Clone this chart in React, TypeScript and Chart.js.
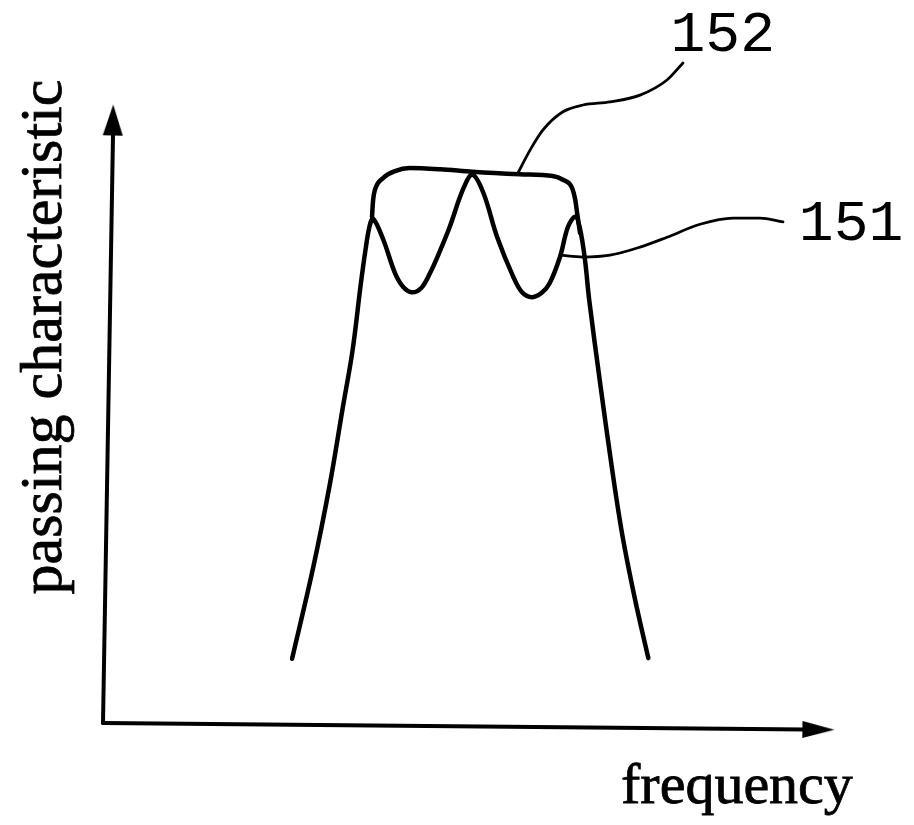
import React, { useEffect, useRef } from "react";
import { Chart, registerables } from "chart.js";

Chart.register(...registerables);

// ---- data (frequency / passing characteristic in arbitrary units, 0..100 on each axis) ----
const curve151Freq = [25.9, 28.8, 31.1, 32.8, 34.2, 35.3, 35.95, 36.5, 37.0, 38.4, 40.0, 41.1, 42.3, 43.6, 44.8, 46.2, 47.5, 49.3, 50.6, 52.1, 54.0, 56.2, 57.4, 58.8, 60.1, 61.2, 62.6, 63.7, 64.7, 65.3, 66.0, 66.6, 68.1, 69.7, 71.1, 72.9, 74.7];
const curve151Pass = [10.4, 25.2, 38.8, 50.7, 60.4, 70.9, 76.5, 80.3, 81.6, 78.2, 72.8, 70.6, 69.7, 70.4, 72.8, 76.5, 80.3, 86.3, 88.7, 85.8, 78.6, 72.2, 69.7, 68.9, 69.6, 71.2, 75.4, 80.3, 81.9, 80.2, 75.2, 68.5, 55.0, 41.4, 30.7, 19.9, 10.5];

const curve152Freq = [36.85, 37.0, 37.26, 38.4, 40.0, 42.0, 46.2, 50.6, 57.1, 61.6, 63.0, 64.25, 64.7, 64.95, 65.35];
const curve152Pass = [81.9, 84.6, 86.3, 88.2, 89.3, 89.8, 89.6, 89.2, 88.8, 88.5, 87.9, 86.6, 84.6, 82.5, 79.3];

const leader152Freq = [56.85, 58.5, 60.3, 63.0, 65.75, 69.45, 73.56, 77.26, 79.45];
const leader152Pass = [89.0, 92.7, 96.0, 98.9, 100.0, 100.5, 101.6, 104.05, 106.8];

const leader151Freq = [62.6, 65.75, 69.45, 73.56, 77.26, 81.78, 86.3, 90.0, 93.15];
const leader151Pass = [75.7, 75.4, 75.7, 77.0, 78.6, 80.7, 81.7, 81.7, 81.1];

const xAxisFreq = [0, 96.2];
const xAxisPass = [0, -1.04];
const yAxisFreq = [0, 1.37];
const yAxisPass = [0, 95.15];
const xArrowFreq = [98.0];
const xArrowPass = [-1.07];
const yArrowFreq = [1.37];
const yArrowPass = [97.57];

const refLabels = ["152", "151"];
const refLabelFreq = [84.9, 102.47];
const refLabelPass = [108.74, 78.16];

const xTitle = "frequency";
const xTitleFreq = 70.96;
const xTitlePass = -12.94;
const yTitle = "passing characteristic";
const yTitleFreq = -5.75;
const yTitlePass = 62.46;

const pts = (xs: number[], ys: number[]) => xs.map((x, i) => ({ x, y: ys[i] }));

function makeArrow(w: number, h: number) {
  const c = document.createElement("canvas");
  c.width = w;
  c.height = h;
  const g = c.getContext("2d")!;
  g.fillStyle = "#000";
  g.beginPath();
  g.moveTo(w / 2, 0);
  g.lineTo(w, h);
  g.lineTo(0, h);
  g.closePath();
  g.fill();
  return c;
}

const textPlugin = {
  id: "drawingText",
  afterDatasetsDraw(chart: any) {
    const { ctx } = chart;
    const xs = chart.scales.x;
    const ys = chart.scales.y;
    ctx.save();
    ctx.fillStyle = "#000";
    ctx.strokeStyle = "#000";
    ctx.textBaseline = "alphabetic";
    ctx.font = '58px "Liberation Mono"';
    ctx.textAlign = "center";
    refLabels.forEach((t, i) => {
      ctx.fillText(t, xs.getPixelForValue(refLabelFreq[i]), ys.getPixelForValue(refLabelPass[i]));
    });
    ctx.lineWidth = 0.8;
    ctx.font = '58px "Liberation Serif"';
    ctx.textAlign = "left";
    const fx = xs.getPixelForValue(xTitleFreq);
    const fy = ys.getPixelForValue(xTitlePass);
    ctx.fillText(xTitle, fx, fy);
    ctx.strokeText(xTitle, fx, fy);
    ctx.translate(xs.getPixelForValue(yTitleFreq), ys.getPixelForValue(yTitlePass));
    ctx.rotate(-Math.PI / 2);
    ctx.font = '60px "Liberation Serif"';
    ctx.textAlign = "center";
    ctx.fillText(yTitle, 0, 0);
    ctx.strokeText(yTitle, 0, 0);
    ctx.restore();
  },
};

export default function App() {
  const ref = useRef<HTMLCanvasElement | null>(null);
  useEffect(() => {
    if (!ref.current) return;
    const arrowV = makeArrow(20, 31);
    const arrowH = makeArrow(17, 32);
    const lineBase = {
      type: "line" as const,
      showLine: true,
      pointRadius: 0,
      borderColor: "#000",
      backgroundColor: "#000",
      tension: 0.35,
      borderCapStyle: "round" as const,
      borderJoinStyle: "round" as const,
      clip: false as any,
      fill: false,
    };
    const chart = new Chart(ref.current, {
      type: "scatter",
      data: {
        datasets: [
          { ...lineBase, label: "x axis", data: pts(xAxisFreq, xAxisPass), borderWidth: 4, tension: 0 },
          { ...lineBase, label: "y axis", data: pts(yAxisFreq, yAxisPass), borderWidth: 4, tension: 0 },
          { ...lineBase, label: "x arrow", showLine: false, data: pts(xArrowFreq, xArrowPass), pointRadius: 12, pointStyle: arrowH as any, pointRotation: 90.55 },
          { ...lineBase, label: "y arrow", showLine: false, data: pts(yArrowFreq, yArrowPass), pointRadius: 12, pointStyle: arrowV as any, pointRotation: 0.97 },
          { ...lineBase, label: "151", data: pts(curve151Freq, curve151Pass), borderWidth: 4.5 },
          { ...lineBase, label: "152", data: pts(curve152Freq, curve152Pass), borderWidth: 4.5, cubicInterpolationMode: "monotone" as const },
          { ...lineBase, label: "leader 152", data: pts(leader152Freq, leader152Pass), borderWidth: 2.8, cubicInterpolationMode: "monotone" as const },
          { ...lineBase, label: "leader 151", data: pts(leader151Freq, leader151Pass), borderWidth: 2.8, cubicInterpolationMode: "monotone" as const },
        ] as any,
      },
      options: {
        responsive: false,
        animation: false,
        events: [],
        layout: { padding: { left: 103, right: 81, top: 105, bottom: 102 } },
        plugins: { legend: { display: false }, tooltip: { enabled: false }, title: { display: false } },
        scales: {
          x: { type: "linear", min: 0, max: 100, display: false },
          y: { type: "linear", min: 0, max: 100, display: false },
        },
      },
      plugins: [textPlugin],
    });
    return () => chart.destroy();
  }, []);
  return (
    <div style={{ position: "absolute", left: 0, top: 0, width: 914, height: 825, background: "#fff" }}>
      <canvas ref={ref} width={914} height={825} style={{ width: 914, height: 825 }} />
    </div>
  );
}
